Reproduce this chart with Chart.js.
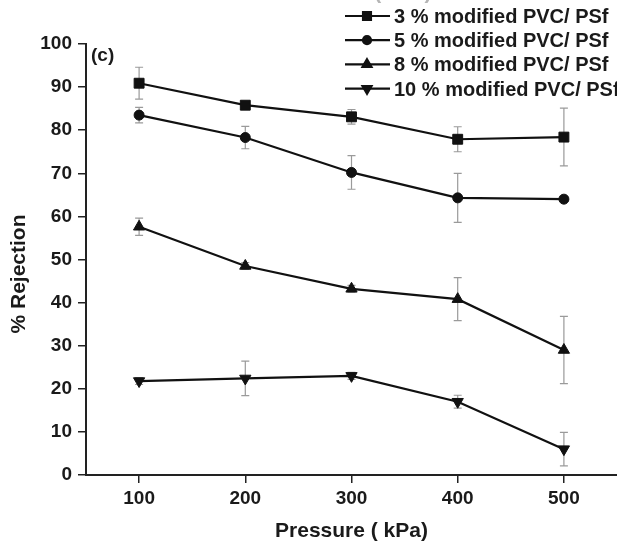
<!DOCTYPE html>
<html>
<head>
<meta charset="utf-8">
<script src="https://cdn.jsdelivr.net/npm/chart.js@4/dist/chart.umd.min.js"></script>
<style>
  html, body { margin: 0; padding: 0; background: #fff; overflow: hidden; }
  canvas { display: block; }
</style>
</head>
<body>
<canvas id="chart" width="617" height="544"></canvas>
<script>
// data
const pressures = [100, 200, 300, 400, 500];
const seriesNames = ['3 % modified PVC/ PSf', '5 % modified PVC/ PSf', '8 % modified PVC/ PSf', '10 % modified PVC/ PSf'];
const rej3 = [90.9, 85.8, 83.1, 77.9, 78.4];
const rej5 = [83.5, 78.3, 70.2, 64.3, 64.0];
const rej8 = [57.6, 48.5, 43.2, 40.8, 29.0];
const rej10 = [21.8, 22.4, 23.0, 17.0, 6.0];
const err3 = [3.7, 0.8, 1.7, 2.9, 6.7];
const err5 = [1.8, 2.6, 3.9, 5.7, 0.5];
const err8 = [2.0, 0.8, 0.8, 5.0, 7.8];
const err10 = [0.8, 4.0, 0.8, 1.5, 3.9];
const xTicks = [100, 200, 300, 400, 500];
const yTicks = [0, 10, 20, 30, 40, 50, 60, 70, 80, 90, 100];

const FONT = '"Liberation Sans", Arial, sans-serif';
const INK = '#1a1a1a';

// marker styles per series
const markers = [
  {style: 'rect', radius: 7, rot: 0},
  {style: 'circle', radius: 5, rot: 0},
  {style: 'triangle', radius: 6.5, rot: 0},
  {style: 'triangle', radius: 6.5, rot: 180}
];
const allValues = [rej3, rej5, rej8, rej10];
const allErrors = [err3, err5, err8, err10];

function makeDataset(i) {
  return {
    label: seriesNames[i],
    data: pressures.map((p, j) => ({x: p, y: allValues[i][j]})),
    errors: allErrors[i],
    borderColor: '#111',
    backgroundColor: '#111',
    borderWidth: 2.2,
    pointStyle: markers[i].style,
    pointRadius: markers[i].radius,
    pointRotation: markers[i].rot,
    pointBackgroundColor: '#111',
    pointBorderColor: '#111',
    pointBorderWidth: 1,
    tension: 0
  };
}

// grey error bars, drawn under the lines
const errorBars = {
  id: 'errorBars',
  beforeDatasetsDraw(chart) {
    const ctx = chart.ctx;
    const ys = chart.scales.y;
    ctx.save();
    ctx.strokeStyle = '#9a9a9a';
    ctx.lineWidth = 1.2;
    chart.data.datasets.forEach((ds, i) => {
      const meta = chart.getDatasetMeta(i);
      meta.data.forEach((pt, j) => {
        const v = ds.data[j].y, e = ds.errors[j];
        const top = ys.getPixelForValue(v + e);
        const bot = ys.getPixelForValue(v - e);
        ctx.beginPath();
        ctx.moveTo(pt.x, top); ctx.lineTo(pt.x, bot);
        ctx.moveTo(pt.x - 4, top); ctx.lineTo(pt.x + 4, top);
        ctx.moveTo(pt.x - 4, bot); ctx.lineTo(pt.x + 4, bot);
        ctx.stroke();
      });
    });
    ctx.restore();
  }
};

// titles, panel tag and the line+marker legend
const extras = {
  id: 'extras',
  afterDraw(chart) {
    const ctx = chart.ctx;
    const area = chart.chartArea;
    ctx.save();
    ctx.fillStyle = INK;

    // y title
    ctx.font = 'bold 21px ' + FONT;
    ctx.textAlign = 'center';
    ctx.textBaseline = 'middle';
    ctx.save();
    ctx.translate(19, 274);
    ctx.rotate(-Math.PI / 2);
    ctx.fillText('% Rejection', 0, 0);
    ctx.restore();

    // x title
    ctx.textBaseline = 'alphabetic';
    ctx.fillText('Pressure ( kPa)', (area.left + area.right) / 2, 537);

    // cut-off title of the panel above
    ctx.fillStyle = '#b5b5b5';
    ctx.fillText('Pressure ( kPa)', 355, -1);
    ctx.fillStyle = INK;

    // panel tag
    ctx.font = 'bold 19px ' + FONT;
    ctx.textAlign = 'left';
    ctx.textBaseline = 'middle';
    ctx.fillText('(c)', 91, 56);

    // legend
    ctx.font = 'bold 20px ' + FONT;
    chart.data.datasets.forEach((ds, i) => {
      const y = 16 + i * 24.2;
      ctx.strokeStyle = '#111';
      ctx.lineWidth = 2.2;
      ctx.beginPath();
      ctx.moveTo(345, y); ctx.lineTo(390, y);
      ctx.stroke();
      ctx.fillStyle = '#111';
      Chart.helpers.drawPoint(ctx, {
        pointStyle: ds.pointStyle,
        radius: ds.pointRadius * 0.8,
        rotation: ds.pointRotation,
        borderWidth: 1
      }, 367, y);
      ctx.fillStyle = INK;
      ctx.fillText(ds.label, 394, y + 1.5);
    });
    ctx.restore();
  }
};

new Chart(document.getElementById('chart'), {
  type: 'line',
  data: { datasets: [0, 1, 2, 3].map(makeDataset) },
  options: {
    responsive: false,
    animation: false,
    layout: { autoPadding: false, padding: { top: 44, right: 0, bottom: 0, left: 0 } },
    plugins: { legend: { display: false }, tooltip: { enabled: false } },
    scales: {
      x: {
        type: 'linear',
        min: 50,
        max: 550,
        afterBuildTicks: (s) => { s.ticks = xTicks.map(v => ({value: v})); },
        afterFit: (s) => { s.height = 69; s.paddingLeft = 0; s.paddingRight = 0; },
        border: { display: true, color: '#222', width: 2 },
        grid: { display: true, drawOnChartArea: false, drawTicks: true, tickLength: 8, color: '#222', lineWidth: 1.5 },
        ticks: { color: INK, font: { family: FONT, size: 19, weight: 'bold' }, padding: 4, maxRotation: 0 }
      },
      y: {
        min: 0,
        max: 100,
        afterBuildTicks: (s) => { s.ticks = yTicks.map(v => ({value: v})); },
        afterFit: (s) => { s.width = 86; },
        border: { display: true, color: '#222', width: 2 },
        grid: { display: true, drawOnChartArea: false, drawTicks: true, tickLength: 8, color: '#222', lineWidth: 1.5 },
        ticks: { color: INK, font: { family: FONT, size: 19, weight: 'bold' }, padding: 6 }
      }
    }
  },
  plugins: [errorBars, extras]
});
</script>
</body>
</html>
